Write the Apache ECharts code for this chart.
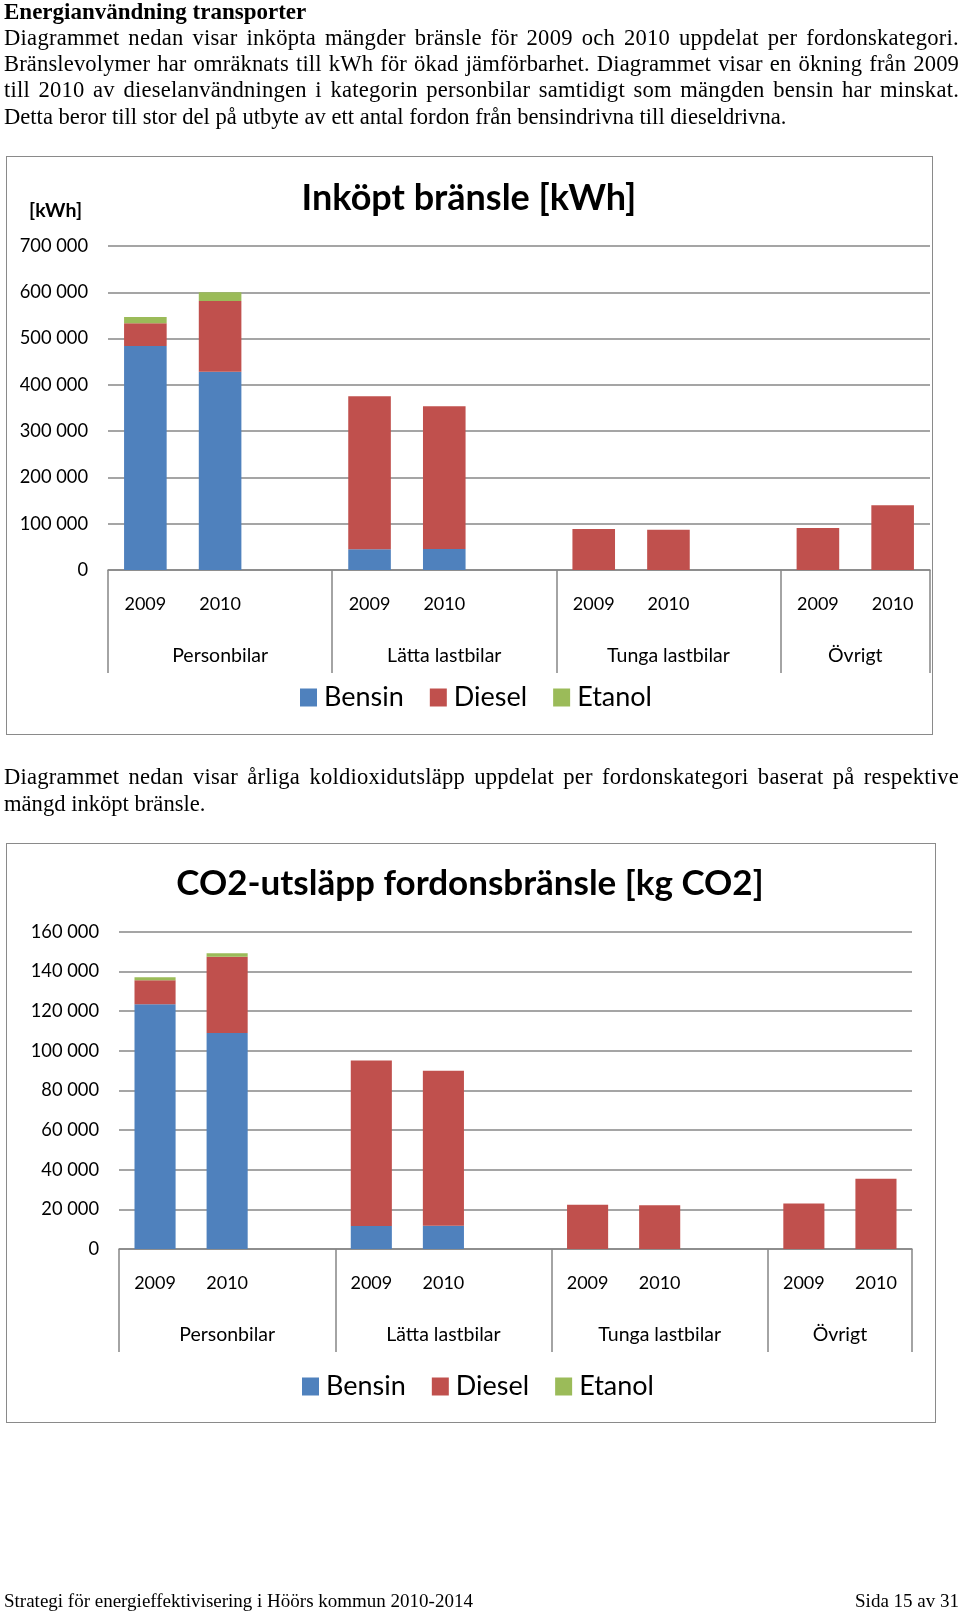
<!DOCTYPE html>
<html>
<head>
<meta charset="utf-8">
<script src="https://cdn.jsdelivr.net/npm/echarts/dist/echarts.min.js"></script>
<style>
  html, body { margin: 0; padding: 0; background: #fff; }
  body { position: relative; width: 960px; height: 1612px; overflow: hidden; }
  #chart { position: absolute; left: 0; top: 0; width: 960px; height: 1612px; z-index: 0; }
  .t { position: absolute; left: 4px; font-family: "Liberation Serif", "Times New Roman", serif;
       font-size: 22.6px; line-height: 26px; height: 26px; white-space: nowrap; color: #000; z-index: 2; }
  .b { font-weight: bold; font-size: 23px; }
  .f { font-size: 19px; }
  .box { position: absolute; border: 1.5px solid #8a8a8a; box-sizing: border-box; pointer-events: none; z-index: 3; }
</style>
</head>
<body>
<div class="t b" style="top:-1px">Energianvändning transporter</div>
<div class="t j" style="top:25px">Diagrammet nedan visar inköpta mängder bränsle för 2009 och 2010 uppdelat per fordonskategori.</div>
<div class="t j" style="top:51px">Bränslevolymer har omräknats till kWh för ökad jämförbarhet. Diagrammet visar en ökning från 2009</div>
<div class="t j" style="top:77px">till 2010 av dieselanvändningen i kategorin personbilar samtidigt som mängden bensin har minskat.</div>
<div class="t" style="top:104px">Detta beror till stor del på utbyte av ett antal fordon från bensindrivna till dieseldrivna.</div>

<div class="t j" style="top:764px">Diagrammet nedan visar årliga koldioxidutsläpp uppdelat per fordonskategori baserat på respektive</div>
<div class="t" style="top:791px">mängd inköpt bränsle.</div>

<div class="t f" style="top:1588px">Strategi för energieffektivisering i Höörs kommun 2010-2014</div>
<div class="t f" style="top:1588px; left:auto; right:1px">Sida 15 av 31</div>

<div class="box" style="left:6px; top:156px; width:927px; height:579px"></div>
<div class="box" style="left:6px; top:843px; width:930px; height:580px"></div>

<div id="chart"></div>

<script>
// ---------- data ----------
const slotLabels = ['2009', '2010', '', '2009', '2010', '', '2009', '2010', '', '2009', '2010'];
const groupNames = ['Personbilar', 'Lätta lastbilar', 'Tunga lastbilar', 'Övrigt'];
const fuelNames = ['Bensin', 'Diesel', 'Etanol'];

// order: Personbilar 2009, 2010, Lätta lastbilar 2009, 2010, Tunga lastbilar 2009, 2010, Övrigt 2009, 2010
const kwhBensin = [484000, 428500, 44700, 45400, 0, 0, 0, 0];
const kwhDiesel = [49000, 152500, 330600, 308300, 88600, 87100, 90700, 139800];
const kwhEtanol = [13700, 19000, 0, 0, 0, 0, 0, 0];

const co2Bensin = [123400, 108900, 11600, 11750, 0, 0, 0, 0];
const co2Diesel = [12100, 38500, 83500, 78150, 22350, 22000, 23000, 35450];
const co2Etanol = [1500, 1700, 0, 0, 0, 0, 0, 0];

const kwhAxisMax = 700000, kwhAxisStep = 100000;
const co2AxisMax = 160000, co2AxisStep = 20000;

const title1 = 'Inköpt bränsle [kWh]';
const title2 = 'CO2-utsläpp fordonsbränsle [kg CO2]';
const unit1 = '[kWh]';

// ---------- helpers ----------
// insert an empty spacer slot after each pair of years (except the last group)
function toSlots(vals) {
  const out = [];
  vals.forEach((v, i) => {
    out.push(v);
    if (i % 2 === 1 && i < vals.length - 1) out.push(null);
  });
  return out;
}
// group boundaries / centres in slot units
const groupBounds = [0];
const groupCenters = [];
(function () {
  let pos = 0;
  groupNames.forEach((g, i) => {
    const w = (i < groupNames.length - 1) ? 3 : 2;
    groupCenters.push(pos + w / 2);
    pos += w;
    groupBounds.push(pos);
  });
})();
const fmt = v => String(v).replace(/\B(?=(\d{3})+(?!\d))/g, ' ');

const F = 'Lato';
const GRID = '#878787';
const COLORS = ['#4F81BD', '#C0504D', '#9BBB59'];

function xAxes(gi) {
  return [
    {
      type: 'category', gridIndex: gi, data: slotLabels, position: 'bottom',
      axisLine: { lineStyle: { color: GRID, width: 1.5 } },
      axisTick: { show: false },
      axisLabel: { interval: 0, margin: 25, fontSize: 18, color: '#000', fontFamily: F }
    },
    {
      type: 'value', gridIndex: gi, min: 0, max: slotLabels.length, position: 'bottom',
      axisLine: { show: false },
      splitLine: { show: false },
      axisTick: { show: true, customValues: groupBounds, length: 103, lineStyle: { color: GRID, width: 1.5 } },
      axisLabel: { customValues: groupCenters, margin: 76, fontSize: 19.5, color: '#000', fontFamily: F,
                   formatter: v => groupNames[groupCenters.indexOf(v)] || '' }
    }
  ];
}
function yAxis(gi, max, step, name) {
  const a = {
    type: 'value', gridIndex: gi, min: 0, max: max, interval: step,
    axisLine: { show: false }, axisTick: { show: false },
    splitLine: { lineStyle: { color: GRID, width: 1.5 } },
    axisLabel: { margin: 20, fontSize: 18.3, color: '#000', fontFamily: F, formatter: fmt }
  };
  if (name) {
    a.name = name;
    a.nameLocation = 'end';
    a.nameGap = 35;
    a.nameTextStyle = { fontFamily: F, fontWeight: 'bold', fontSize: 19.5, color: '#000',
                        align: 'right', verticalAlign: 'middle', padding: [0, 26, 0, 0] };
  }
  return a;
}
function bars(gi, stack, arrs) {
  return arrs.map((arr, k) => ({
    name: fuelNames[k], type: 'bar', stack: stack,
    xAxisIndex: gi * 2, yAxisIndex: gi,
    barWidth: '57%',
    itemStyle: { color: COLORS[k] },
    data: toSlots(arr)
  }));
}
function legend(left, top) {
  return {
    data: fuelNames, left: left, top: top, padding: 0, orient: 'horizontal',
    icon: 'rect', itemWidth: 17, itemHeight: 18, itemGap: 26,
    textStyle: { fontSize: 27, fontFamily: F, color: '#000', padding: [0, 0, 0, 2] }
  };
}

const chart = echarts.init(document.getElementById('chart'), null, { renderer: 'canvas' });
chart.setOption({
  animation: false,
  color: COLORS,
  title: [
    { text: title1, left: 469, top: 180, textAlign: 'center', padding: 0,
      textStyle: { fontSize: 36, fontWeight: 'bold', fontFamily: F, color: '#000' } },
    { text: title2, left: 470, top: 866, textAlign: 'center', padding: 0,
      textStyle: { fontSize: 35, fontWeight: 'bold', fontFamily: F, color: '#000' } }
  ],
  legend: [legend(300, 684), legend(302, 1373)],
  grid: [
    { left: 108, right: 30, top: 246, bottom: 1612 - 570, containLabel: false },
    { left: 119, right: 48, top: 931.7, bottom: 1612 - 1249, containLabel: false }
  ],
  xAxis: [...xAxes(0), ...xAxes(1)],
  yAxis: [yAxis(0, kwhAxisMax, kwhAxisStep, unit1), yAxis(1, co2AxisMax, co2AxisStep, null)],
  series: [
    ...bars(0, 'kwh', [kwhBensin, kwhDiesel, kwhEtanol]),
    ...bars(1, 'co2', [co2Bensin, co2Diesel, co2Etanol])
  ]
});

// justify body text lines (share the extra room between letters and spaces)
document.querySelectorAll('.j').forEach(el => {
  const target = 955;
  const text = el.textContent;
  const w = el.getBoundingClientRect().width;
  const n = (text.match(/ /g) || []).length;
  const extra = target - w;
  const ls = (extra * 0.4) / text.length;
  el.style.letterSpacing = ls + 'px';
  const w2 = el.getBoundingClientRect().width;
  if (n > 0) el.style.wordSpacing = ((target - w2) / n) + 'px';
});
</script>
</body>
</html>
